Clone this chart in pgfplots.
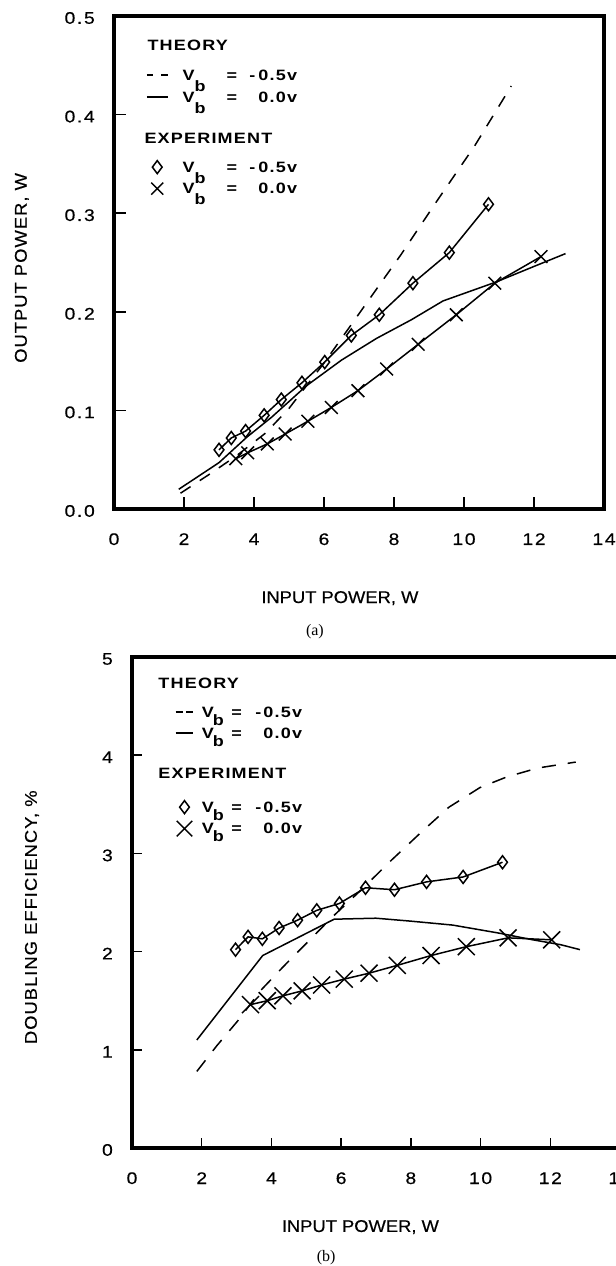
\documentclass[border=0pt]{standalone}
\usepackage{fontspec}
\setmainfont{Liberation Sans}
\newfontfamily\tickfont{Liberation Sans}[FakeStretch=1.15,LetterSpace=10,FakeBold=0.4]
\newfontfamily\labfont{Liberation Sans}[FakeStretch=1.08,FakeBold=0.4]
\newfontfamily\ylabfont{Liberation Sans}[FakeStretch=1.08,LetterSpace=6,FakeBold=0.4]
\newfontfamily\legfont{Liberation Sans}[FakeStretch=1.2,LetterSpace=8]
\newfontfamily\capfont{Liberation Serif}
\usepackage{pgfplots}
\pgfplotsset{compat=1.18}
\newcommand{\putat}[2]{\makebox[0pt][l]{\hspace*{#1}#2}}
\pgfplotsset{
  legbox/.style n args={3}{legend image code/.code={\path[draw=none,fill=none] (0bp,-#2) rectangle (#1,#3);}},
  legline/.style n args={3}{legend image code/.code={\path[draw=none,fill=none] (0bp,-#2) rectangle (#1,#3); \draw[##1] (0bp,0bp) -- (#1,0bp);}},
  legmark/.style n args={3}{legend image code/.code={\path[draw=none,fill=none] (0bp,-#2) rectangle (#1,#3); \draw[##1] plot coordinates {(#1/2,0bp)};}},
  figframe/.style={
    scale only axis, anchor=south west, clip mode=individual,
    xmin=0, xmax=14,
    xtick={0,2,...,14}, xticklabels={0,2,4,6,8,10,12,14},
    tick align=inside, tick pos=left,
    tick style={black, line width=1.5bp},
    axis line style={line width=4.5bp, black},
    xticklabel style={font=\tickfont\fontsize{16.8bp}{19bp}\selectfont, anchor=base, yshift=-36bp, inner sep=0pt},
    yticklabel style={font=\tickfont\fontsize{16.8bp}{19bp}\selectfont, anchor=east, xshift=-19bp, yshift=-2bp, inner sep=0pt},
    xlabel={INPUT POWER, W},
    xlabel style={anchor=base, font=\labfont\fontsize{17bp}{20bp}\selectfont, inner sep=0pt},
    ylabel style={anchor=center, font=\ylabfont\fontsize{17bp}{20bp}\selectfont, inner sep=0pt},
    legend cell align=left,
    legend style={anchor=north west, draw=none, fill=none, inner sep=0pt, outer sep=0pt,
      row sep=0pt, column sep=0pt,
      nodes={inner sep=0pt, outer sep=0pt, text height=10bp, text depth=0bp,
        font=\legfont\bfseries\fontsize{15bp}{18bp}\selectfont}},
  },
}
\begin{document}
\begin{tikzpicture}
\useasboundingbox (0,0) rectangle (616bp,1266bp);
\fill[white] (0,0) rectangle (616bp,1266bp);
\clip (0,0) rectangle (616bp,1266bp);

% ---------------- panel (a) ----------------
\begin{axis}[figframe,
  at={(114bp,757bp)}, width=490bp, height=493bp,
  ymin=0, ymax=0.5,
  ytick={0,0.1,0.2,0.3,0.4,0.5}, yticklabels={0.0,0.1,0.2,0.3,0.4,0.5},
  major tick length=12bp,
  xlabel style={at={(axis description cs:0.461,-0.1907)}},
  ylabel={OUTPUT POWER, W},
  ylabel style={at={(axis description cs:-0.188,0.489)}},
  legend style={at={(axis description cs:0.0653,0.952)},
    /tikz/every odd column/.append style={column sep=14bp}},
]
\addlegendimage{legbox={21bp}{6bp}{6bp}}
\addlegendentry{\hspace*{-35bp}THEORY}
\addlegendimage{black, line width=1.5bp, dash pattern=on 6.5bp off 8bp, legline={21bp}{6bp}{23.5bp}}
\addlegendentry{\putat{0bp}{V}\putat{12bp}{\raisebox{-11bp}[0pt][0pt]{b}}\putat{44bp}{=}\putat{67bp}{-}\putat{76bp}{0.5v}\hspace*{118bp}}
\addlegendimage{black, line width=1.5bp, legline={21bp}{6bp}{16bp}}
\addlegendentry{\putat{0bp}{V}\putat{12bp}{\raisebox{-11bp}[0pt][0pt]{b}}\putat{44bp}{=}\putat{76bp}{0.0v}\hspace*{118bp}}
\addlegendimage{legbox={21bp}{6bp}{35.5bp}}
\addlegendentry{\hspace*{-38bp}EXPERIMENT}
\addlegendimage{black, line width=1.5bp, mark=diamond, mark size=6.5bp, mark options={solid, fill=white, line width=1.5bp}, legmark={21bp}{6bp}{22.5bp}}
\addlegendentry{\putat{0bp}{V}\putat{12bp}{\raisebox{-11bp}[0pt][0pt]{b}}\putat{44bp}{=}\putat{67bp}{-}\putat{76bp}{0.5v}\hspace*{118bp}}
\addlegendimage{black, line width=1.5bp, mark=x, mark size=8.5bp, mark options={solid, line width=1.5bp}, legmark={21bp}{6bp}{15bp}}
\addlegendentry{\putat{0bp}{V}\putat{12bp}{\raisebox{-11bp}[0pt][0pt]{b}}\putat{44bp}{=}\putat{76bp}{0.0v}\hspace*{118bp}}

% theory Vb=-0.5 V (dashed)
\addplot[black, line width=1.5bp, dash pattern=on 12bp off 11bp, forget plot] coordinates {
(1.9,0.016) (2.76,0.036) (3.5,0.054) (4.33,0.077) (5.0,0.102) (6.0,0.148)
(7.1,0.203) (8.2,0.258) (9.2,0.311) (10.3,0.368) (11.35,0.429)};
% theory Vb=0 V (solid)
\addplot[black, line width=1.5bp, forget plot] coordinates {
(1.85,0.020) (3.0,0.047) (3.8,0.073) (4.5,0.093) (5.5,0.125) (6.5,0.151)
(7.5,0.173) (8.5,0.192) (9.4,0.211) (10.9,0.230) (12.0,0.246) (12.9,0.259)};
% experiment Vb=0 V (crosses)
\addplot[black, line width=1.5bp, mark=x, mark size=9bp, mark options={solid, line width=1.5bp}, forget plot] coordinates {
(3.48,0.051) (3.82,0.057) (4.38,0.066) (4.89,0.076) (5.54,0.089) (6.21,0.103)
(6.97,0.120) (7.79,0.142) (8.69,0.167) (9.78,0.197) (10.88,0.229) (12.2,0.256)};
% experiment Vb=-0.5 V (diamonds)
\addplot[black, line width=1.5bp, mark=diamond, mark size=6.5bp, mark options={solid, fill=white, line width=1.5bp}, forget plot] coordinates {
(3.0,0.060) (3.35,0.072) (3.76,0.079) (4.29,0.095) (4.78,0.111) (5.37,0.128)
(6.02,0.149) (6.78,0.176) (7.58,0.197) (8.54,0.229) (9.58,0.260) (10.7,0.309)};
\node[font=\capfont\fontsize{16bp}{18bp}\selectfont, anchor=base, inner sep=0pt] at (axis description cs:0.410,-0.2576) {(a)};
\end{axis}

% ---------------- panel (b) ----------------
\begin{axis}[figframe,
  at={(132bp,118bp)}, width=488bp, height=491bp,
  ymin=0, ymax=5,
  ytick={0,1,2,3,4,5}, yticklabels={0,1,2,3,4,5},
  major tick length=10bp,
  xlabel style={at={(axis description cs:0.468,-0.171)}},
  ylabel={DOUBLING EFFICIENCY, \%},
  ylabel style={at={(axis description cs:-0.205,0.47)}},
  legend style={at={(axis description cs:0.0881,0.958)},
    /tikz/every odd column/.append style={column sep=8bp}},
]
\addlegendimage{legbox={17.5bp}{6bp}{6bp}}
\addlegendentry{\hspace*{-43.5bp}THEORY}
\addlegendimage{black, line width=1.5bp, dash pattern=on 7bp off 3.5bp, legline={17.5bp}{6bp}{22.5bp}}
\addlegendentry{\putat{0bp}{V}\putat{11bp}{\raisebox{-8bp}[0pt][0pt]{b}}\putat{29.5bp}{=}\putat{53.5bp}{-}\putat{61.5bp}{0.5v}\hspace*{108bp}}
\addlegendimage{black, line width=1.5bp, legline={17.5bp}{6bp}{15bp}}
\addlegendentry{\putat{0bp}{V}\putat{11bp}{\raisebox{-8bp}[0pt][0pt]{b}}\putat{29.5bp}{=}\putat{61.5bp}{0.0v}\hspace*{108bp}}
\addlegendimage{legbox={17.5bp}{6bp}{34.5bp}}
\addlegendentry{\hspace*{-43.5bp}EXPERIMENT}
\addlegendimage{black, line width=1.5bp, mark=diamond, mark size=6.5bp, mark options={solid, fill=white, line width=1.5bp}, legmark={17.5bp}{6bp}{27.5bp}}
\addlegendentry{\putat{0bp}{V}\putat{11bp}{\raisebox{-8bp}[0pt][0pt]{b}}\putat{29.5bp}{=}\putat{53.5bp}{-}\putat{61.5bp}{0.5v}\hspace*{108bp}}
\addlegendimage{black, line width=1.5bp, mark=x, mark size=11bp, mark options={solid, line width=1.5bp}, legmark={17.5bp}{6bp}{15bp}}
\addlegendentry{\putat{0bp}{V}\putat{11bp}{\raisebox{-8bp}[0pt][0pt]{b}}\putat{29.5bp}{=}\putat{61.5bp}{0.0v}\hspace*{108bp}}

% theory Vb=-0.5 V (dashed)
\addplot[black, line width=1.5bp, dash pattern=on 14bp off 12bp, forget plot] coordinates {
(1.86,0.78) (2.43,1.04) (3.07,1.31) (3.68,1.60) (4.35,1.85) (5.13,2.13) (5.74,2.35)
(6.58,2.63) (7.41,2.92) (8.31,3.22) (9.09,3.47) (9.98,3.67) (10.76,3.78) (11.65,3.87) (12.73,3.93)};
% theory Vb=0 V (solid)
\addplot[black, line width=1.5bp, forget plot] coordinates {
(1.86,1.10) (3.75,1.96) (5.8,2.33) (7.0,2.34) (8.0,2.31) (9.2,2.27)
(10.5,2.19) (11.5,2.12) (12.3,2.07) (12.85,2.02)};
% experiment Vb=0 V (crosses)
\addplot[black, line width=1.5bp, mark=x, mark size=12bp, mark options={solid, line width=1.5bp}, forget plot] coordinates {
(3.40,1.46) (3.88,1.50) (4.33,1.55) (4.88,1.60) (5.44,1.66) (6.09,1.72)
(6.80,1.78) (7.61,1.86) (8.58,1.96) (9.59,2.05) (10.79,2.14) (12.04,2.12)};
% experiment Vb=-0.5 V (diamonds)
\addplot[black, line width=1.5bp, mark=diamond, mark size=6.5bp, mark options={solid, fill=white, line width=1.5bp}, forget plot] coordinates {
(2.97,2.02) (3.33,2.15) (3.74,2.13) (4.22,2.24) (4.75,2.32) (5.3,2.42)
(5.95,2.49) (6.7,2.65) (7.53,2.63) (8.45,2.71) (9.5,2.76) (10.63,2.91)};
\node[font=\capfont\fontsize{16bp}{18bp}\selectfont, anchor=base, inner sep=0pt] at (axis description cs:0.398,-0.232) {(b)};
\end{axis}
\end{tikzpicture}
\end{document}
